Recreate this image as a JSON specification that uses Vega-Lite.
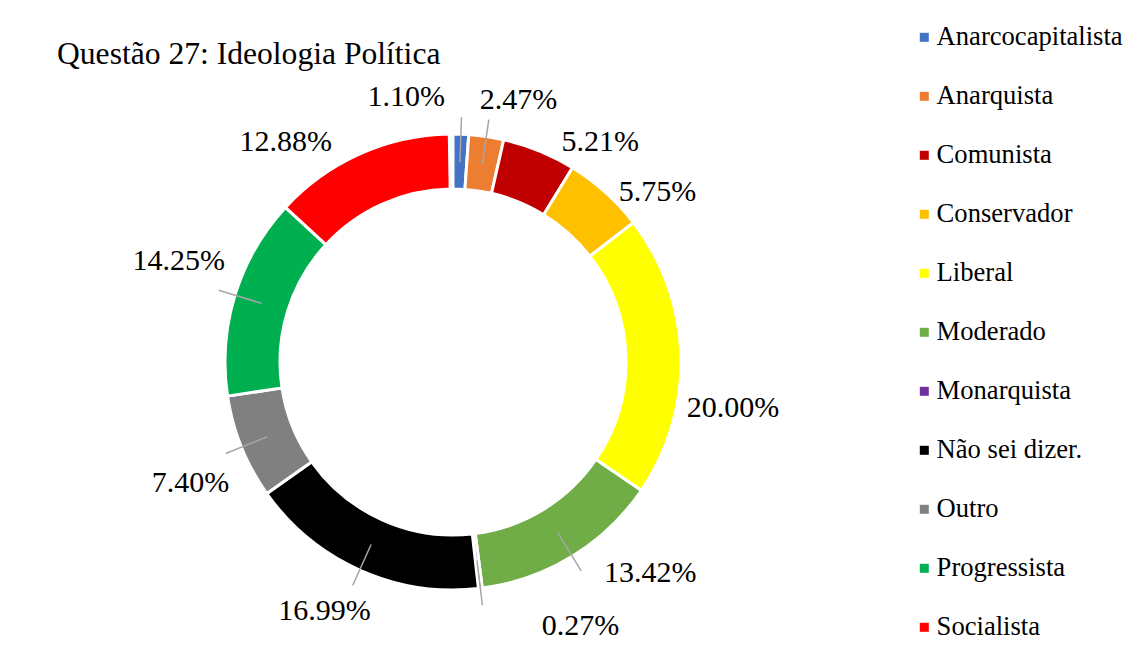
{
  "$schema": "https://vega.github.io/schema/vega-lite/v6.json",
  "width": 792,
  "height": 564,
  "autosize": "none",
  "padding": {"left": 57, "top": 80, "right": 290, "bottom": 8},
  "background": "white",
  "title": {
    "text": "Questão 27: Ideologia Política",
    "anchor": "start",
    "frame": "group",
    "offset": 17,
    "dy": 89,
    "baseline": "alphabetic",
    "font": "Liberation Serif",
    "fontSize": 31.6,
    "fontWeight": "normal",
    "color": "black"
  },
  "data": {
    "values": [
      {"cat": "Anarcocapitalista", "v": 0.0110},
      {"cat": "Anarquista", "v": 0.0247},
      {"cat": "Comunista", "v": 0.0521},
      {"cat": "Conservador", "v": 0.0575},
      {"cat": "Liberal", "v": 0.2000},
      {"cat": "Moderado", "v": 0.1342},
      {"cat": "Monarquista", "v": 0.0027},
      {"cat": "Não sei dizer.", "v": 0.1699},
      {"cat": "Outro", "v": 0.0740},
      {"cat": "Progressista", "v": 0.1425},
      {"cat": "Socialista", "v": 0.1288}
    ]
  },
  "encoding": {
    "theta": {"field": "v", "type": "quantitative", "stack": true, "scale": {"domain": [0, 1]}},
    "order": {"field": "cat", "type": "ordinal", "sort": "ascending"}
  },
  "layer": [
    {
      "mark": {"type": "arc", "radius": 228, "radius2": 173, "stroke": "white", "strokeWidth": 3},
      "encoding": {
        "color": {
          "field": "cat",
          "type": "nominal",
          "scale": {
            "domain": ["Anarcocapitalista", "Anarquista", "Comunista", "Conservador", "Liberal", "Moderado", "Monarquista", "Não sei dizer.", "Outro", "Progressista", "Socialista"],
            "range": ["#4472C4", "#ED7D31", "#C00000", "#FFC000", "#FFFF00", "#70AD47", "#7030A0", "#000000", "#808080", "#00B050", "#FF0000"]
          },
          "legend": {
            "orient": "none",
            "legendX": 854,
            "legendY": -56,
            "title": null,
            "direction": "vertical",
            "padding": 0,
            "symbolType": "square",
            "symbolSize": 81,
            "symbolStrokeWidth": 0,
            "symbolOpacity": 1,
            "labelFont": "Liberation Serif",
            "labelFontSize": 26.6,
            "labelColor": "black",
            "labelOffset": -1,
            "labelLimit": 400,
            "rowPadding": 32
          }
        }
      }
    },
    {
      "mark": {"type": "arc", "radius": 245, "radius2": 200, "padAngle": 1.5, "filled": false, "stroke": "#A6A6A6", "strokeWidth": 1.5},
      "encoding": {
        "strokeOpacity": {
          "condition": {"test": "indexof(['Comunista','Conservador','Liberal','Socialista'], datum.cat) < 0", "value": 1},
          "value": 0
        }
      }
    },
    {
      "mark": {"type": "text", "radius": 270, "dx": -56, "dy": 5, "font": "Liberation Serif", "fontSize": 30, "align": "center", "baseline": "middle", "color": "black"},
      "encoding": {"text": {"condition": {"test": "datum.cat === 'Anarcocapitalista'", "field": "v", "type": "quantitative", "format": ".2%"}, "value": ""}}
    },
    {
      "mark": {"type": "text", "radius": 270, "dx": 26, "dy": 5, "font": "Liberation Serif", "fontSize": 30, "align": "center", "baseline": "middle", "color": "black"},
      "encoding": {"text": {"condition": {"test": "datum.cat === 'Anarquista'", "field": "v", "type": "quantitative", "format": ".2%"}, "value": ""}}
    },
    {
      "mark": {"type": "text", "radius": 270, "dx": 45, "dy": 30, "font": "Liberation Serif", "fontSize": 30, "align": "center", "baseline": "middle", "color": "black"},
      "encoding": {"text": {"condition": {"test": "datum.cat === 'Comunista'", "field": "v", "type": "quantitative", "format": ".2%"}, "value": ""}}
    },
    {
      "mark": {"type": "text", "radius": 270, "dx": 24, "dy": 31, "font": "Liberation Serif", "fontSize": 30, "align": "center", "baseline": "middle", "color": "black"},
      "encoding": {"text": {"condition": {"test": "datum.cat === 'Conservador'", "field": "v", "type": "quantitative", "format": ".2%"}, "value": ""}}
    },
    {
      "mark": {"type": "text", "radius": 270, "dx": 10, "dy": 54, "font": "Liberation Serif", "fontSize": 30, "align": "center", "baseline": "middle", "color": "black"},
      "encoding": {"text": {"condition": {"test": "datum.cat === 'Liberal'", "field": "v", "type": "quantitative", "format": ".2%"}, "value": ""}}
    },
    {
      "mark": {"type": "text", "radius": 270, "dx": 56, "dy": -19, "font": "Liberation Serif", "fontSize": 30, "align": "center", "baseline": "middle", "color": "black"},
      "encoding": {"text": {"condition": {"test": "datum.cat === 'Moderado'", "field": "v", "type": "quantitative", "format": ".2%"}, "value": ""}}
    },
    {
      "mark": {"type": "text", "radius": 270, "dx": 95, "dy": -4, "font": "Liberation Serif", "fontSize": 30, "align": "center", "baseline": "middle", "color": "black"},
      "encoding": {"text": {"condition": {"test": "datum.cat === 'Monarquista'", "field": "v", "type": "quantitative", "format": ".2%"}, "value": ""}}
    },
    {
      "mark": {"type": "text", "radius": 270, "dx": -18, "dy": 3, "font": "Liberation Serif", "fontSize": 30, "align": "center", "baseline": "middle", "color": "black"},
      "encoding": {"text": {"condition": {"test": "datum.cat === 'Não sei dizer.'", "field": "v", "type": "quantitative", "format": ".2%"}, "value": ""}}
    },
    {
      "mark": {"type": "text", "radius": 270, "dx": -12, "dy": 20, "font": "Liberation Serif", "fontSize": 30, "align": "center", "baseline": "middle", "color": "black"},
      "encoding": {"text": {"condition": {"test": "datum.cat === 'Outro'", "field": "v", "type": "quantitative", "format": ".2%"}, "value": ""}}
    },
    {
      "mark": {"type": "text", "radius": 270, "dx": -16, "dy": -22, "font": "Liberation Serif", "fontSize": 30, "align": "center", "baseline": "middle", "color": "black"},
      "encoding": {"text": {"condition": {"test": "datum.cat === 'Progressista'", "field": "v", "type": "quantitative", "format": ".2%"}, "value": ""}}
    },
    {
      "mark": {"type": "text", "radius": 270, "dx": -57, "dy": 26, "font": "Liberation Serif", "fontSize": 30, "align": "center", "baseline": "middle", "color": "black"},
      "encoding": {"text": {"condition": {"test": "datum.cat === 'Socialista'", "field": "v", "type": "quantitative", "format": ".2%"}, "value": ""}}
    }
  ],
  "config": {
    "view": {"stroke": null},
    "font": "Liberation Serif"
  }
}
